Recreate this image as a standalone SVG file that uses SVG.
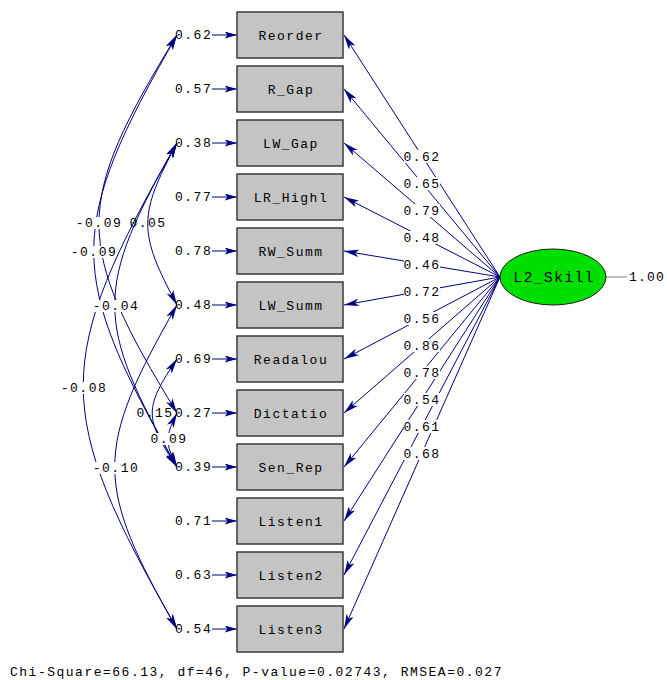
<svg xmlns="http://www.w3.org/2000/svg" width="667" height="680" viewBox="0 0 667 680">
<style>
.t{font-family:"Liberation Mono","Courier New",monospace;font-size:13px;letter-spacing:1.5px;fill:#000;}
.m{text-anchor:middle;}
.box{fill:#c4c4c4;stroke:#3a3a3a;stroke-width:1.5;}
.ld{stroke:#000080;stroke-width:1;fill:none;marker-end:url(#ah);}
.cv{stroke:#000080;stroke-width:1;fill:none;marker-start:url(#ah);marker-end:url(#ah);}
.er{stroke:#000080;stroke-width:1;fill:none;marker-end:url(#eh);}
.bg{fill:#fff;}
</style>
<defs>
<marker id="ah" viewBox="0 0 16 8" refX="16" refY="4" markerWidth="15" markerHeight="8" markerUnits="userSpaceOnUse" orient="auto-start-reverse">
<path d="M0,0 L16,4 L0,8 L4,4 z" fill="#000080"/>
</marker>
<marker id="eh" viewBox="0 0 14 8" refX="14" refY="4" markerWidth="13" markerHeight="7" markerUnits="userSpaceOnUse" orient="auto">
<path d="M0,0 L14,4 L0,8 L3,4 z" fill="#000080"/>
</marker>
</defs>
<rect width="667" height="680" fill="#fff"/>

<g id="connectors">
<path class="ld" d="M500,277 L344,35"/>
<path class="ld" d="M500,277 L344,89"/>
<path class="ld" d="M500,277 L344,143"/>
<path class="ld" d="M500,277 L344,197"/>
<path class="ld" d="M500,277 L344,251"/>
<path class="ld" d="M500,277 L344,305"/>
<path class="ld" d="M500,277 L344,359"/>
<path class="ld" d="M500,277 L344,413"/>
<path class="ld" d="M500,277 L344,467"/>
<path class="ld" d="M500,277 L344,521"/>
<path class="ld" d="M500,277 L344,575"/>
<path class="ld" d="M500,277 L344,629"/>
<path class="er" d="M212,35 L237,35"/>
<path class="er" d="M212,89 L237,89"/>
<path class="er" d="M212,143 L237,143"/>
<path class="er" d="M212,197 L237,197"/>
<path class="er" d="M212,251 L237,251"/>
<path class="er" d="M212,305 L237,305"/>
<path class="er" d="M212,359 L237,359"/>
<path class="er" d="M212,413 L237,413"/>
<path class="er" d="M212,467 L237,467"/>
<path class="er" d="M212,521 L237,521"/>
<path class="er" d="M212,575 L237,575"/>
<path class="er" d="M212,629 L237,629"/>
<path class="cv" d="M177,35 C73,205 73,243 177,413"/>
<path class="cv" d="M177,35 C66,229 66,273 177,467"/>
<path class="cv" d="M177,143 C138,216 138,232 177,305"/>
<path class="cv" d="M177,143 C94,289 94,321 177,467"/>
<path class="cv" d="M177,143 C52,362 52,410 177,629"/>
<path class="cv" d="M177,359 C144,408 144,418 177,467"/>
<path class="cv" d="M177,413 C165,437 165,443 177,467"/>
<path class="cv" d="M177,305 C94,450 94,484 177,629"/>
<path d="M606,277 L627,277" stroke="#808080" stroke-width="1"/>
</g>

<g id="loading-labels">
<rect class="bg" x="404" y="150" width="36" height="13"/><text class="t m" x="422" y="161">0.62</text>
<rect class="bg" x="404" y="177" width="36" height="13"/><text class="t m" x="422" y="188">0.65</text>
<rect class="bg" x="404" y="204" width="36" height="13"/><text class="t m" x="422" y="215">0.79</text>
<rect class="bg" x="404" y="231" width="36" height="13"/><text class="t m" x="422" y="242">0.48</text>
<rect class="bg" x="404" y="258" width="36" height="13"/><text class="t m" x="422" y="269">0.46</text>
<rect class="bg" x="404" y="285" width="36" height="13"/><text class="t m" x="422" y="296">0.72</text>
<rect class="bg" x="404" y="312" width="36" height="13"/><text class="t m" x="422" y="323">0.56</text>
<rect class="bg" x="404" y="339" width="36" height="13"/><text class="t m" x="422" y="350">0.86</text>
<rect class="bg" x="404" y="366" width="36" height="13"/><text class="t m" x="422" y="377">0.78</text>
<rect class="bg" x="404" y="393" width="36" height="13"/><text class="t m" x="422" y="404">0.54</text>
<rect class="bg" x="404" y="420" width="36" height="13"/><text class="t m" x="422" y="431">0.61</text>
<rect class="bg" x="404" y="447" width="36" height="13"/><text class="t m" x="422" y="458">0.68</text>
</g>

<g id="covariance-labels">
<rect class="bg" x="79" y="217" width="38" height="12"/><text class="t m" x="99" y="227">-0.09</text>
<text class="t m" x="148" y="227">0.05</text>
<rect class="bg" x="73" y="246" width="40" height="12"/><text class="t m" x="94" y="256">-0.09</text>
<rect class="bg" x="94" y="300" width="42" height="12"/><text class="t m" x="116" y="310">-0.04</text>
<rect class="bg" x="62" y="382" width="42" height="12"/><text class="t m" x="84" y="392">-0.08</text>
<text class="t m" x="155" y="417">0.15</text>
<rect class="bg" x="151" y="433" width="35" height="12"/><text class="t m" x="169" y="443">0.09</text>
<rect class="bg" x="94" y="462" width="42" height="12"/><text class="t m" x="116" y="472">-0.10</text>
</g>

<g id="n-Reorder"><rect class="box" x="237" y="12" width="106" height="46"/><text class="t m" x="291" y="40">Reorder</text><text class="t" x="175" y="39">0.62</text></g>
<g id="n-R_Gap"><rect class="box" x="237" y="66" width="106" height="46"/><text class="t m" x="291" y="94">R_Gap</text><text class="t" x="175" y="93">0.57</text></g>
<g id="n-LW_Gap"><rect class="box" x="237" y="120" width="106" height="46"/><text class="t m" x="291" y="148">LW_Gap</text><text class="t" x="175" y="147">0.38</text></g>
<g id="n-LR_Highl"><rect class="box" x="237" y="174" width="106" height="46"/><text class="t m" x="291" y="202">LR_Highl</text><text class="t" x="175" y="201">0.77</text></g>
<g id="n-RW_Summ"><rect class="box" x="237" y="228" width="106" height="46"/><text class="t m" x="291" y="256">RW_Summ</text><text class="t" x="175" y="255">0.78</text></g>
<g id="n-LW_Summ"><rect class="box" x="237" y="282" width="106" height="46"/><text class="t m" x="291" y="310">LW_Summ</text><text class="t" x="175" y="309">0.48</text></g>
<g id="n-Readalou"><rect class="box" x="237" y="336" width="106" height="46"/><text class="t m" x="291" y="364">Readalou</text><text class="t" x="175" y="363">0.69</text></g>
<g id="n-Dictatio"><rect class="box" x="237" y="390" width="106" height="46"/><text class="t m" x="291" y="418">Dictatio</text><text class="t" x="175" y="417">0.27</text></g>
<g id="n-Sen_Rep"><rect class="box" x="237" y="444" width="106" height="46"/><text class="t m" x="291" y="472">Sen_Rep</text><text class="t" x="175" y="471">0.39</text></g>
<g id="n-Listen1"><rect class="box" x="237" y="498" width="106" height="46"/><text class="t m" x="291" y="526">Listen1</text><text class="t" x="175" y="525">0.71</text></g>
<g id="n-Listen2"><rect class="box" x="237" y="552" width="106" height="46"/><text class="t m" x="291" y="580">Listen2</text><text class="t" x="175" y="579">0.63</text></g>
<g id="n-Listen3"><rect class="box" x="237" y="606" width="106" height="46"/><text class="t m" x="291" y="634">Listen3</text><text class="t" x="175" y="633">0.54</text></g>

<g id="n-L2_Skill">
<ellipse cx="553" cy="277" rx="53" ry="28" fill="#00e000" stroke="#1a1a1a" stroke-width="1"/>
<text class="t m" x="554" y="282" style="font-size:15px;letter-spacing:1.2px">L2_Skill</text>
<text class="t" x="629" y="281" style="letter-spacing:1.2px">1.00</text>
</g>

<text class="t" x="10" y="676">Chi-Square=66.13, df=46, P-value=0.02743, RMSEA=0.027</text>
</svg>
